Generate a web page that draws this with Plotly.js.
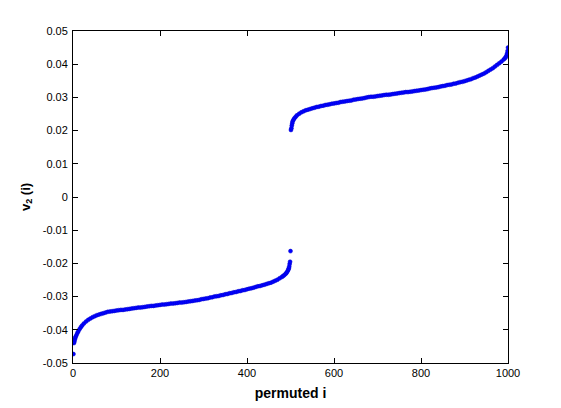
<!DOCTYPE html>
<html>
<head>
<meta charset="utf-8">
<script src="https://cdn.plot.ly/plotly-3.0.1.min.js"></script>
<style>html,body{margin:0;padding:0;background:#fff;}#chart{width:561px;height:408px;}</style>
</head>
<body>
<div id="chart"></div>
<script>
// Lower cluster (permuted index -> v2 value)
var idxLow = [1,2,3,4,5,6,8,10,12,15,18,21,25,30,35,40,45,50,55,60,65,70,75,80,85,90,95,
  100,105,110,115,120,125,130,135,140,145,150,155,160,165,170,175,180,185,190,195,
  200,205,210,215,220,225,230,235,240,245,250,255,260,265,270,275,280,285,290,295,
  300,305,310,315,320,325,330,335,340,345,350,355,360,365,370,375,380,385,390,395,
  400,405,410,415,420,425,430,435,440,445,450,455,460,465,470,475,480,483,486,489,
  491,493,495,496,497,498,499,500];
var valLow = [-0.0473,-0.0440,-0.0436,-0.0430,-0.0425,-0.0421,-0.0416,-0.0410,-0.0405,-0.0398,-0.0392,-0.0387,-0.0381,-0.0375,-0.0370,-0.0366,-0.0362,-0.0359,-0.0356,-0.0354,-0.0352,-0.0350,-0.0348,-0.0346,-0.0345,-0.0344,-0.0343,
  -0.0342,-0.0341,-0.0340,-0.0340,-0.0339,-0.0338,-0.0337,-0.0336,-0.0335,-0.0334,-0.0333,-0.0333,-0.0332,-0.0331,-0.0330,-0.0329,-0.0328,-0.0328,-0.0327,-0.0326,
  -0.0325,-0.0324,-0.0324,-0.0323,-0.0322,-0.0321,-0.0321,-0.0320,-0.0319,-0.0318,-0.0318,-0.0317,-0.0316,-0.0315,-0.0314,-0.0313,-0.0312,-0.0311,-0.0310,-0.0308,
  -0.0307,-0.0306,-0.0305,-0.0303,-0.0302,-0.0300,-0.0299,-0.0298,-0.0296,-0.0295,-0.0293,-0.0292,-0.0290,-0.0289,-0.0287,-0.0286,-0.0284,-0.0283,-0.0281,-0.0280,
  -0.0278,-0.0276,-0.0275,-0.0273,-0.0271,-0.0269,-0.0268,-0.0266,-0.0264,-0.0262,-0.0260,-0.0258,-0.0255,-0.0252,-0.0249,-0.0245,-0.0241,-0.0238,-0.0235,-0.0231,
  -0.0228,-0.0224,-0.0219,-0.0215,-0.0210,-0.0202,-0.0195,-0.0163];

// Upper cluster
var idxHigh = [501,502,503,504,505,507,509,512,515,520,525,530,535,540,545,550,555,560,565,570,575,580,585,590,595,
  600,605,610,615,620,625,630,635,640,645,650,655,660,665,670,675,680,685,690,695,
  700,705,710,715,720,725,730,735,740,745,750,755,760,765,770,775,780,785,790,795,
  800,805,810,815,820,825,830,835,840,845,850,855,860,865,870,875,880,885,890,895,
  900,905,910,915,920,925,930,935,940,945,950,955,960,965,970,975,980,985,990,993,
  995,997,998,999,1000];
var valHigh = [0.0202,0.0207,0.0215,0.0222,0.0228,0.0233,0.0237,0.0242,0.0246,0.0251,0.0255,0.0258,0.0261,0.0263,0.0265,0.0267,0.0269,0.0271,0.0272,0.0274,0.0275,0.0277,0.0278,0.0279,0.0281,
  0.0282,0.0283,0.0284,0.0286,0.0287,0.0288,0.0289,0.0290,0.0291,0.0293,0.0294,0.0295,0.0296,0.0297,0.0298,0.0300,0.0301,0.0302,0.0302,0.0303,
  0.0304,0.0305,0.0306,0.0307,0.0308,0.0308,0.0309,0.0310,0.0311,0.0312,0.0313,0.0314,0.0315,0.0316,0.0316,0.0317,0.0318,0.0319,0.0320,0.0321,
  0.0322,0.0323,0.0324,0.0325,0.0327,0.0328,0.0329,0.0330,0.0331,0.0333,0.0334,0.0335,0.0337,0.0338,0.0339,0.0341,0.0342,0.0344,0.0346,0.0347,
  0.0349,0.0351,0.0353,0.0355,0.0358,0.0360,0.0363,0.0366,0.0369,0.0372,0.0376,0.0380,0.0384,0.0388,0.0393,0.0398,0.0403,0.0408,0.0414,0.0418,
  0.0422,0.0427,0.0432,0.0440,0.0450];

var xTickVals = [0,200,400,600,800,1000];
var yTickVals = [0.05,0.04,0.03,0.02,0.01,0,-0.01,-0.02,-0.03,-0.04,-0.05];
var yTickText = ["0.05","0.04","0.03","0.02","0.01","0","-0.01","-0.02","-0.03","-0.04","-0.05"];

var mk = {color:'#0000ff', size:4, symbol:'circle', line:{width:0.5, color:'#0000cc'}};
var traces = [
  {x: idxLow.concat(idxHigh), y: valLow.concat(valHigh), type:'scatter', mode:'markers', marker: mk, hoverinfo:'x+y'}
];

var fontFam = 'Liberation Sans, Arial, Helvetica, sans-serif';
var layout = {
  width:561, height:408,
  margin:{l:73, r:53, t:31, b:45},
  paper_bgcolor:'#fff', plot_bgcolor:'#fff',
  showlegend:false,
  font:{family:fontFam, size:11, color:'#000'},
  xaxis:{
    range:[0,1000], tickvals:xTickVals, ticktext:xTickVals.map(String),
    ticks:'inside', ticklen:5, tickwidth:1, tickcolor:'#000',
    showline:true, linecolor:'#000', linewidth:1, mirror:'ticks',
    showgrid:false, zeroline:false,
    title:{text:'<b>permuted i</b>', font:{size:14, family:fontFam}, standoff:9}
  },
  yaxis:{
    range:[-0.05,0.05], tickvals:yTickVals, ticktext:yTickText,
    ticks:'inside', ticklen:5, tickwidth:1, tickcolor:'#000',
    showline:true, linecolor:'#000', linewidth:1, mirror:'ticks',
    showgrid:false, zeroline:false, ticklabelstandoff:2,
    title:{text:'<b>v<sub>2</sub> (i)</b>', font:{size:13, family:fontFam}, standoff:9}
  }
};
Plotly.newPlot('chart', traces, layout, {displayModeBar:false, staticPlot:true});
</script>
</body>
</html>
